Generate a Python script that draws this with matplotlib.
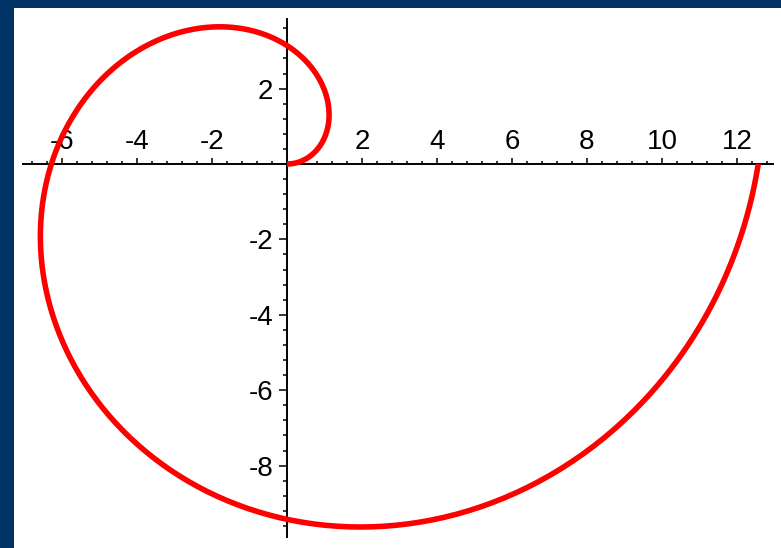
import numpy as np
import matplotlib.pyplot as plt

plt.rcParams['font.family'] = ['Liberation Sans', 'DejaVu Sans']
plt.rcParams['axes.unicode_minus'] = False

# Archimedean spiral r = a*theta, one full turn
a = 2.0
theta_end = 2 * np.pi
n_samples = 400

# Axis extents and tick positions
x_span = (-7.04, 12.96)
y_span = (-9.9, 3.85)
x_major = [-6, -4, -2, 2, 4, 6, 8, 10, 12]
y_major = [-8, -6, -4, -2, 2]
x_labels = ['-6', '-4', '-2', '2', '4', '6', '8', '10', '12']
y_labels = ['-8', '-6', '-4', '-2', '2']
minor_step = 0.4

theta = np.linspace(0, theta_end, n_samples)
r = a * theta
x = r * np.cos(theta)
y = r * np.sin(theta)

fig = plt.figure(figsize=(7.81, 5.48), dpi=100, facecolor='#003366')
ax = fig.add_axes([14 / 781, 0, 767 / 781, 540 / 548])
ax.set_facecolor('white')

ax.plot(x, y, color='#ff0000', lw=4.0, solid_capstyle='butt', zorder=3)

# pixel scale: 37.5 px per unit in x, 37.7 px per unit in y
ax.set_xlim((14 - 287) / 37.5, (781 - 287) / 37.5)
ax.set_ylim((164 - 548) / 37.7, (164 - 8) / 37.7)

# Axes through the origin, Maple style
for side in ['bottom', 'right']:
    ax.spines[side].set_visible(False)
ax.spines['top'].set_position(('data', 0))
ax.spines['left'].set_position(('data', 0))
ax.spines['top'].set_bounds(*x_span)
ax.spines['left'].set_bounds(*y_span)
for side in ['top', 'left']:
    ax.spines[side].set_linewidth(1.4)
    ax.spines[side].set_color('black')

ax.xaxis.tick_top()
ax.set_xticks(x_major)
ax.set_xticklabels(x_labels)
ax.set_yticks(y_major)
ax.set_yticklabels(y_labels)

x_minor = [v for v in np.arange(-6.8, 12.81, minor_step) if round(v / 2, 6) % 1]
y_minor = [v for v in np.arange(-9.6, 3.61, minor_step) if round(v / 2, 6) % 1]
ax.set_xticks(x_minor, minor=True)
ax.set_yticks(y_minor, minor=True)

ax.tick_params(axis='x', which='major', direction='out', length=4.5, width=1.1,
               pad=2, labelsize=20)
ax.tick_params(axis='x', which='minor', direction='out', length=2.2, width=1.1)
ax.tick_params(axis='y', which='major', direction='out', length=6, width=1.1,
               pad=4, labelsize=20)
ax.tick_params(axis='y', which='minor', direction='out', length=3, width=1.1)

fig.savefig('out.png', dpi=100, facecolor=fig.get_facecolor())
